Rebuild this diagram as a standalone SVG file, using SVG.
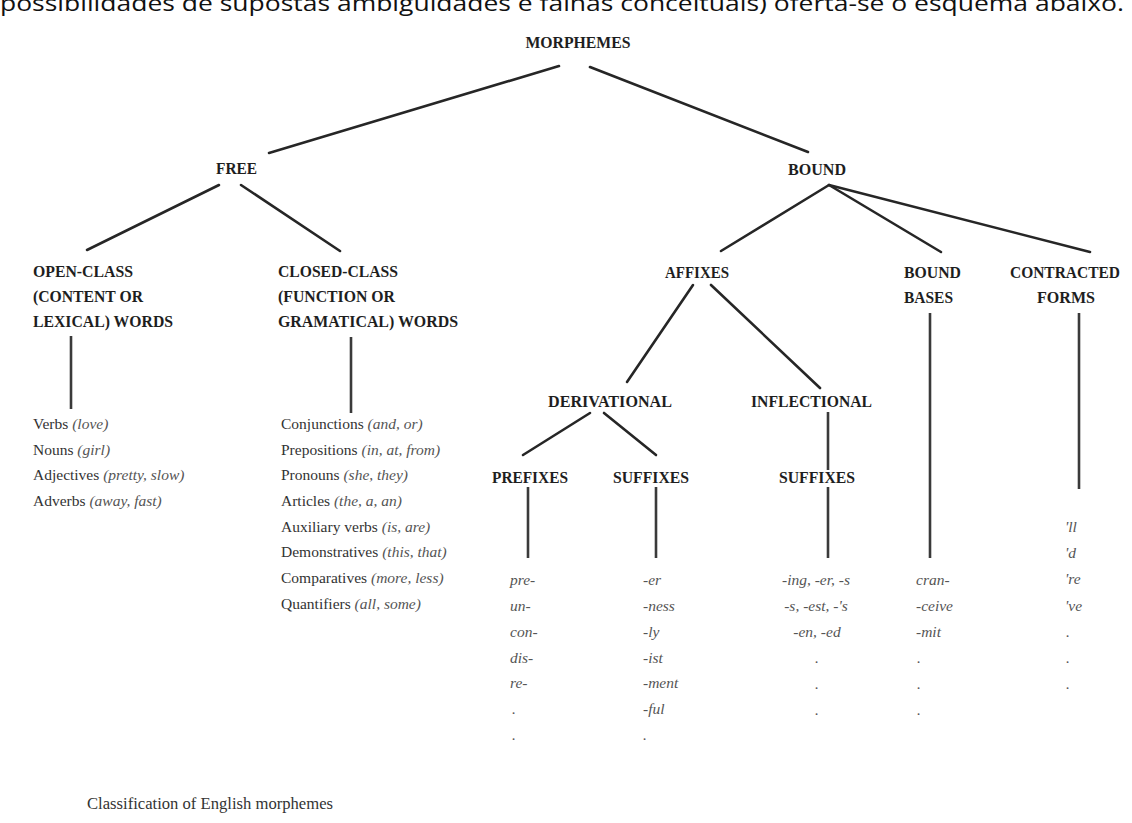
<svg xmlns="http://www.w3.org/2000/svg" width="1132" height="823" viewBox="0 0 1132 823">
<style>
.h{font-family:"Liberation Serif","Times New Roman",serif;font-weight:bold;font-size:17.5px;fill:#1e1e1e}
.t{font-family:"Liberation Serif","Times New Roman",serif;font-size:15.5px;fill:#333}
.i{font-family:"Liberation Serif","Times New Roman",serif;font-style:italic;font-size:15.5px;fill:#555}
.c{stroke:#262626;stroke-width:2.6;fill:none;stroke-linecap:round}
.v{stroke:#3a3a3a;stroke-width:2.6;fill:none}
.top{font-family:"Open Sans","Liberation Sans",sans-serif;font-size:21px;fill:#111}
.cap{font-family:"Liberation Serif","Times New Roman",serif;font-size:16.5px;fill:#333}
</style>
<rect width="1132" height="823" fill="#fff"/>
<text class="top" x="0" y="11" textLength="1124" lengthAdjust="spacingAndGlyphs">possibilidades de supostas ambiguidades e falhas conceituais) oferta-se o esquema abaixo.</text>

<g id="connectors">
<line class="c" x1="559" y1="66" x2="269" y2="153"/>
<line class="c" x1="590" y1="67" x2="808" y2="152"/>
<line class="c" x1="219" y1="185" x2="87" y2="250"/>
<line class="c" x1="241" y1="185" x2="340" y2="251"/>
<line class="v" x1="71" y1="336" x2="71" y2="409"/>
<line class="v" x1="351" y1="337" x2="351" y2="413"/>
<line class="c" x1="829" y1="185" x2="721" y2="251"/>
<line class="c" x1="829" y1="185" x2="941" y2="252"/>
<line class="c" x1="829" y1="185" x2="1090" y2="252"/>
<line class="c" x1="693" y1="285" x2="627" y2="382"/>
<line class="c" x1="711" y1="285" x2="820" y2="388"/>
<line class="c" x1="590" y1="413" x2="523" y2="455"/>
<line class="c" x1="604" y1="413" x2="656" y2="455"/>
<line class="v" x1="528" y1="487" x2="528" y2="558"/>
<line class="v" x1="656" y1="487" x2="656" y2="558"/>
<line class="v" x1="828" y1="412" x2="828" y2="470"/>
<line class="v" x1="828" y1="487" x2="828" y2="558"/>
<line class="v" x1="930" y1="313" x2="930" y2="558"/>
<line class="v" x1="1079" y1="313" x2="1079" y2="489"/>
</g>

<g id="morphemes"><text class="h" x="578" y="48" text-anchor="middle" textLength="105" lengthAdjust="spacingAndGlyphs">MORPHEMES</text></g>
<g id="free"><text class="h" x="216" y="174" textLength="41" lengthAdjust="spacingAndGlyphs">FREE</text></g>
<g id="bound"><text class="h" x="788" y="175" textLength="58" lengthAdjust="spacingAndGlyphs">BOUND</text></g>

<g id="open-class">
<text class="h" x="33" y="277" textLength="100" lengthAdjust="spacingAndGlyphs">OPEN-CLASS</text>
<text class="h" x="33" y="302" textLength="110" lengthAdjust="spacingAndGlyphs">(CONTENT OR</text>
<text class="h" x="33" y="327" textLength="140" lengthAdjust="spacingAndGlyphs">LEXICAL) WORDS</text>
</g>
<g id="open-list">
<text class="t" x="33" y="429">Verbs <tspan class="i">(love)</tspan></text>
<text class="t" x="33" y="455">Nouns <tspan class="i">(girl)</tspan></text>
<text class="t" x="33" y="480">Adjectives <tspan class="i">(pretty, slow)</tspan></text>
<text class="t" x="33" y="506">Adverbs <tspan class="i">(away, fast)</tspan></text>
</g>

<g id="closed-class">
<text class="h" x="278" y="277" textLength="120" lengthAdjust="spacingAndGlyphs">CLOSED-CLASS</text>
<text class="h" x="278" y="302" textLength="117" lengthAdjust="spacingAndGlyphs">(FUNCTION OR</text>
<text class="h" x="278" y="327" textLength="180" lengthAdjust="spacingAndGlyphs">GRAMATICAL) WORDS</text>
</g>
<g id="closed-list">
<text class="t" x="281" y="429">Conjunctions <tspan class="i">(and, or)</tspan></text>
<text class="t" x="281" y="455">Prepositions <tspan class="i">(in, at, from)</tspan></text>
<text class="t" x="281" y="480">Pronouns <tspan class="i">(she, they)</tspan></text>
<text class="t" x="281" y="506">Articles <tspan class="i">(the, a, an)</tspan></text>
<text class="t" x="281" y="532">Auxiliary verbs <tspan class="i">(is, are)</tspan></text>
<text class="t" x="281" y="557">Demonstratives <tspan class="i">(this, that)</tspan></text>
<text class="t" x="281" y="583">Comparatives <tspan class="i">(more, less)</tspan></text>
<text class="t" x="281" y="609">Quantifiers <tspan class="i">(all, some)</tspan></text>
</g>

<g id="affixes"><text class="h" x="665" y="278" textLength="64" lengthAdjust="spacingAndGlyphs">AFFIXES</text></g>
<g id="bound-bases">
<text class="h" x="904" y="278" textLength="57" lengthAdjust="spacingAndGlyphs">BOUND</text>
<text class="h" x="904" y="303" textLength="49" lengthAdjust="spacingAndGlyphs">BASES</text>
</g>
<g id="contracted-forms">
<text class="h" x="1065" y="278" text-anchor="middle" textLength="110" lengthAdjust="spacingAndGlyphs" style="font-size:16px">CONTRACTED</text>
<text class="h" x="1066" y="303" text-anchor="middle" textLength="58" lengthAdjust="spacingAndGlyphs">FORMS</text>
</g>
<g id="derivational"><text class="h" x="548" y="407" textLength="124" lengthAdjust="spacingAndGlyphs">DERIVATIONAL</text></g>
<g id="inflectional"><text class="h" x="751" y="407" textLength="121" lengthAdjust="spacingAndGlyphs">INFLECTIONAL</text></g>
<g id="prefixes"><text class="h" x="492" y="483" textLength="76" lengthAdjust="spacingAndGlyphs">PREFIXES</text></g>
<g id="der-suffixes"><text class="h" x="613" y="483" textLength="76" lengthAdjust="spacingAndGlyphs">SUFFIXES</text></g>
<g id="inf-suffixes"><text class="h" x="779" y="483" textLength="76" lengthAdjust="spacingAndGlyphs">SUFFIXES</text></g>

<g id="prefix-list">
<text class="i" x="510" y="585">pre-</text>
<text class="i" x="510" y="611">un-</text>
<text class="i" x="510" y="637">con-</text>
<text class="i" x="510" y="663">dis-</text>
<text class="i" x="510" y="688">re-</text>
<text class="i" x="512" y="714">.</text>
<text class="i" x="512" y="740">.</text>
</g>
<g id="suffix-list">
<text class="i" x="643" y="585">-er</text>
<text class="i" x="643" y="611">-ness</text>
<text class="i" x="643" y="637">-ly</text>
<text class="i" x="643" y="663">-ist</text>
<text class="i" x="643" y="688">-ment</text>
<text class="i" x="643" y="714">-ful</text>
<text class="i" x="643" y="740">.</text>
</g>
<g id="inflection-list">
<text class="i" x="816" y="585" text-anchor="middle">-ing, -er, -s</text>
<text class="i" x="816" y="611" text-anchor="middle">-s, -est, -'s</text>
<text class="i" x="817" y="637" text-anchor="middle">-en, -ed</text>
<text class="i" x="817" y="663" text-anchor="middle">.</text>
<text class="i" x="817" y="689" text-anchor="middle">.</text>
<text class="i" x="817" y="715" text-anchor="middle">.</text>
</g>
<g id="bases-list">
<text class="i" x="916" y="585">cran-</text>
<text class="i" x="916" y="611">-ceive</text>
<text class="i" x="916" y="637">-mit</text>
<text class="i" x="917" y="663">.</text>
<text class="i" x="917" y="689">.</text>
<text class="i" x="917" y="715">.</text>
</g>
<g id="contracted-list">
<text class="i" x="1065" y="532">'ll</text>
<text class="i" x="1065" y="558">'d</text>
<text class="i" x="1065" y="584">'re</text>
<text class="i" x="1065" y="611">'ve</text>
<text class="i" x="1066" y="637">.</text>
<text class="i" x="1066" y="663">.</text>
<text class="i" x="1066" y="689">.</text>
</g>

<g id="caption"><text class="cap" x="87" y="809" textLength="246" lengthAdjust="spacingAndGlyphs">Classification of English morphemes</text></g>
</svg>
